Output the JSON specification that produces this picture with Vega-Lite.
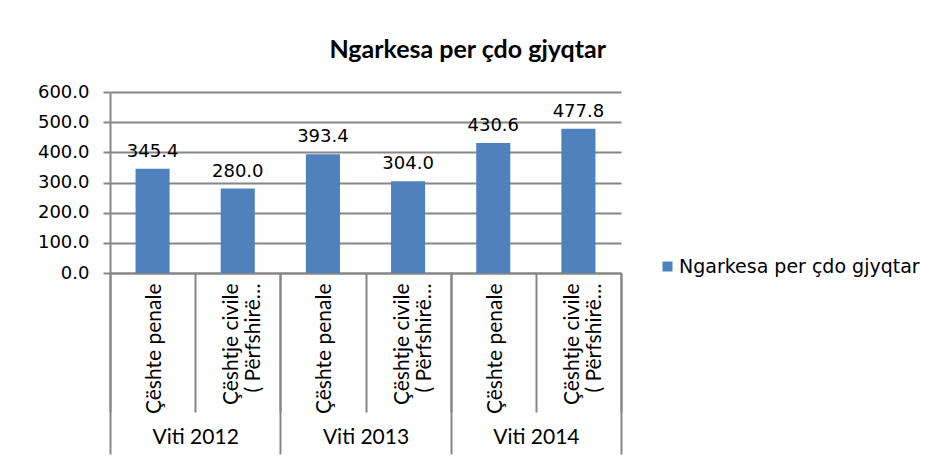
{
  "$schema": "https://vega.github.io/schema/vega-lite/v6.json",
  "width": 511,
  "height": 181,
  "autosize": {"type": "none"},
  "padding": {"left": 110, "top": 92, "right": 312, "bottom": 188},
  "background": "white",
  "title": {
    "text": "Ngarkesa per çdo gjyqtar",
    "font": "Lato",
    "fontSize": 25,
    "fontWeight": "bold",
    "color": "#000000",
    "anchor": "middle",
    "frame": "bounds",
    "baseline": "alphabetic",
    "offset": 0,
    "dx": -11
  },
  "data": {
    "values": [
      {"key": "Viti 2012 p", "year": "Viti 2012", "category": "Çështe penale", "series": "Ngarkesa per çdo gjyqtar", "value": 345.4},
      {"key": "Viti 2012 c", "year": "Viti 2012", "category": "Çështje civile (Përfshirë…", "series": "Ngarkesa per çdo gjyqtar", "value": 280.0},
      {"key": "Viti 2013 p", "year": "Viti 2013", "category": "Çështe penale", "series": "Ngarkesa per çdo gjyqtar", "value": 393.4},
      {"key": "Viti 2013 c", "year": "Viti 2013", "category": "Çështje civile (Përfshirë…", "series": "Ngarkesa per çdo gjyqtar", "value": 304.0},
      {"key": "Viti 2014 p", "year": "Viti 2014", "category": "Çështe penale", "series": "Ngarkesa per çdo gjyqtar", "value": 430.6},
      {"key": "Viti 2014 c", "year": "Viti 2014", "category": "Çështje civile (Përfshirë…", "series": "Ngarkesa per çdo gjyqtar", "value": 477.8}
    ]
  },
  "layer": [
    {
      "mark": {"type": "bar", "width": {"band": 0.4}},
      "encoding": {
        "x": {
          "field": "key",
          "type": "nominal",
          "sort": null,
          "scale": {"paddingInner": 0, "paddingOuter": 0},
          "axis": {
            "title": null,
            "orient": "bottom",
            "labelAngle": -90,
            "labelAlign": "right",
            "labelBaseline": "middle",
            "labelFont": "Lato",
            "labelFontSize": 21,
            "labelColor": "#000000",
            "labelLineHeight": 22,
            "labelOverlap": false,
            "labelLimit": 0,
            "labelOffset": {"condition": {"test": "indexof(['Viti 2012 c','Viti 2013 c','Viti 2014 c'], datum.value) >= 0", "value": -6}, "value": 2},
            "labelExpr": "indexof(['Viti 2012 p','Viti 2013 p','Viti 2014 p'], datum.value) >= 0 ? 'Çështe penale' : (indexof(['Viti 2012 c','Viti 2013 c','Viti 2014 c'], datum.value) >= 0 ? ['Çështje civile', '( Përfshirë…'] : '')",
            "tickBand": "extent",
            "tickSize": 139,
            "tickWidth": 2,
            "tickColor": "#868686",
            "labelPadding": -129,
            "domainColor": "#868686",
            "domainWidth": 2
          }
        },
        "y": {
          "field": "value",
          "type": "quantitative",
          "scale": {"domain": [0, 600], "nice": false},
          "axis": {
            "title": null,
            "values": [0, 100, 200, 300, 400, 500, 600],
            "tickCount": 7,
            "format": ".1f",
            "labelOverlap": false,
            "labelFont": "DejaVu Sans",
            "labelFontSize": 18,
            "labelColor": "#000000",
            "labelPadding": 14,
            "tickSize": 7,
            "tickWidth": 2,
            "tickColor": "#868686",
            "domainColor": "#868686",
            "domainWidth": 2,
            "grid": true,
            "gridColor": "#868686",
            "gridWidth": 2
          }
        },
        "color": {
          "field": "series",
          "type": "nominal",
          "scale": {"range": ["#4F81BD"]},
          "legend": {
            "title": null,
            "orient": "none",
            "legendX": 548,
            "legendY": 165,
            "symbolType": "square",
            "symbolSize": 100,
            "symbolStrokeWidth": 0,
            "labelFont": "DejaVu Sans",
            "labelFontSize": 19,
            "labelColor": "#000000",
            "labelOffset": 2,
            "labelLimit": 0
          }
        }
      }
    },
    {
      "mark": {"type": "text", "dy": -17, "font": "DejaVu Sans", "fontSize": 18, "color": "#000000"},
      "encoding": {
        "x": {
          "field": "key",
          "type": "nominal",
          "sort": null,
          "axis": {
            "title": null,
            "orient": "bottom",
            "domain": false,
            "tickBand": "extent",
            "tickSize": 181,
            "tickWidth": 2,
            "tickColor": "#868686",
            "tickOpacity": {"condition": {"test": "indexof(['Viti 2012 p','Viti 2013 p','Viti 2014 p'], datum.value) >= 0", "value": 0}, "value": 1},
            "labelExpr": "datum.value == 'Viti 2012 p' ? 'Viti 2012' : (datum.value == 'Viti 2013 p' ? 'Viti 2013' : (datum.value == 'Viti 2014 p' ? 'Viti 2014' : ''))",
            "labelAngle": 0,
            "labelAlign": "center",
            "labelOffset": 42.6,
            "labelPadding": -17,
            "labelBaseline": "middle",
            "labelFont": "Lato",
            "labelFontSize": 21,
            "labelColor": "#000000",
            "labelOverlap": false
          }
        },
        "y": {
          "field": "value",
          "type": "quantitative",
          "axis": {
            "title": null,
            "values": [0, 100, 200, 300, 400, 500, 600],
            "tickCount": 7,
            "format": ".1f",
            "labelOverlap": false,
            "labelFont": "DejaVu Sans",
            "labelFontSize": 18,
            "labelColor": "#000000",
            "labelPadding": 14,
            "tickSize": 7,
            "tickWidth": 2,
            "tickColor": "#868686",
            "domainColor": "#868686",
            "domainWidth": 2,
            "grid": true,
            "gridColor": "#868686",
            "gridWidth": 2
          }
        },
        "text": {"field": "value", "type": "quantitative", "format": ".1f"}
      }
    }
  ],
  "resolve": {"axis": {"x": "independent"}},
  "config": {"view": {"stroke": null}}
}
